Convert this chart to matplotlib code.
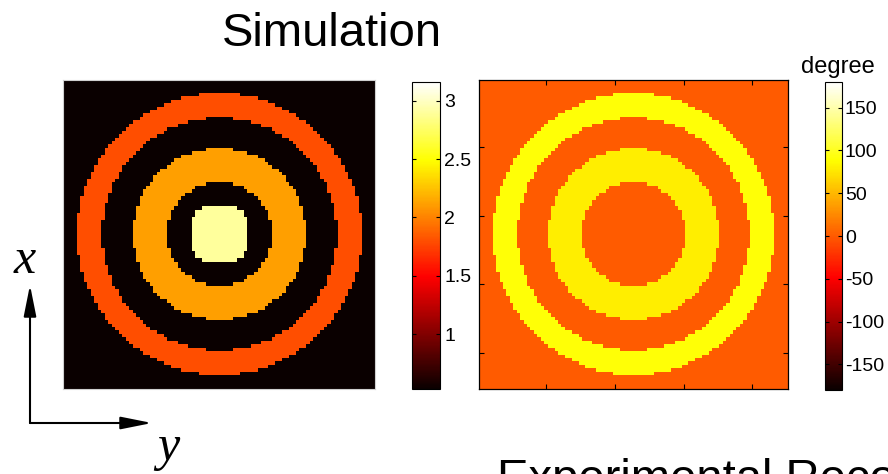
import numpy as np
import matplotlib
matplotlib.use("Agg")
import matplotlib.pyplot as plt
from matplotlib.patches import FancyArrowPatch, ArrowStyle

# ---- data -------------------------------------------------------------
grid_size = 90                      # samples per side
core_radius = 7.8                   # bright central spot (squarish, p-norm)
ring_edges = [15.1, 24.9, 33.8, 40.9]  # zone boundaries in samples

# one value per zone: core, then each annulus, then the outside
amplitude_levels = [2.90, 0.53, 2.12, 0.53, 1.80, 0.53]
phase_levels = [0.0, 0.0, 80.0, 0.0, 90.0, 0.0]   # degree

amp_limits = (0.53, 3.16)
phase_limits = (-180, 180)
amp_ticks = [1, 1.5, 2, 2.5, 3]
amp_ticklabels = ["1", "1.5", "2", "2.5", "3"]
phase_ticks = [-150, -100, -50, 0, 50, 100, 150]
image_ticks = [20, 40, 60, 80]


def zone_map(levels):
    """Fill a square grid zone by zone, from the outside inwards."""
    idx = np.arange(1, grid_size + 1)
    xx, yy = np.meshgrid(idx, idx)
    c = (grid_size + 1) / 2.0
    dx, dy = xx - c, yy - c
    r = np.hypot(dx, dy)
    rp = (np.abs(dx) ** 4 + np.abs(dy) ** 4) ** 0.25
    field = np.full(r.shape, levels[-1], dtype=float)
    for k in range(len(ring_edges) - 1, -1, -1):
        field[r < ring_edges[k]] = levels[k + 1]
    field[rp < core_radius] = levels[0]
    return field


amp = zone_map(amplitude_levels)
phase = zone_map(phase_levels)

W, H = 888, 474
plt.rcParams["font.family"] = ["Liberation Sans", "DejaVu Sans"]
plt.rcParams["axes.unicode_minus"] = False
fig = plt.figure(figsize=(W / 100, H / 100), dpi=100)
fig.patch.set_facecolor("white")


def rect(x0, y0, x1, y1):
    """pixel box (top-left origin) -> figure fraction rect"""
    return [x0 / W, (H - y1) / H, (x1 - x0) / W, (y1 - y0) / H]


ext = (0.5, grid_size + 0.5, grid_size + 0.5, 0.5)

# amplitude panel
ax1 = fig.add_axes(rect(63, 80, 375, 389))
im1 = ax1.imshow(amp, cmap="hot", vmin=amp_limits[0], vmax=amp_limits[1],
                 interpolation="nearest", aspect="auto", extent=ext)
ax1.set_xticks([])
ax1.set_yticks([])
for s in ax1.spines.values():
    s.set_color("#d0d0d0")
    s.set_linewidth(0.8)

cax1 = fig.add_axes(rect(412, 82, 440, 389))
cb1 = fig.colorbar(im1, cax=cax1)
cb1.set_ticks(amp_ticks)
cb1.set_ticklabels(amp_ticklabels)
cb1.outline.set_linewidth(0.8)
cax1.tick_params(axis="y", direction="in", left=True, right=True,
                 length=3, width=0.8, labelsize=14, pad=3)

# phase panel
ax2 = fig.add_axes(rect(479.3, 80, 788.3, 389))
im2 = ax2.imshow(phase, cmap="hot", vmin=phase_limits[0], vmax=phase_limits[1],
                 interpolation="nearest", aspect="auto", extent=ext)
ax2.set_xticks(image_ticks)
ax2.set_yticks(image_ticks)
ax2.set_xticklabels([])
ax2.set_yticklabels([])
ax2.tick_params(direction="in", top=True, right=True, length=3.5, width=0.8)
for s in ax2.spines.values():
    s.set_linewidth(0.9)

cax2 = fig.add_axes(rect(825, 82, 842, 390))
cb2 = fig.colorbar(im2, cax=cax2)
cb2.set_ticks(phase_ticks)
cb2.outline.set_linewidth(0.8)
cax2.tick_params(axis="y", direction="in", left=True, right=True,
                 length=3, width=0.8, labelsize=14, pad=2)
fig.text(838 / W, (H - 73) / H, "degree", ha="center", va="baseline", fontsize=17)

# headings
fig.text(332 / W, (H - 46) / H, "Simulation", ha="center", va="baseline", fontsize=34)
fig.text(497 / W, (H - 491.5) / H, "Experimental Reconstruction",
         ha="left", va="baseline", fontsize=34)

# coordinate arrows
style = ArrowStyle("-|>", head_length=19, head_width=3.8)
origin = (30, H - 423)
for tip in [(30, H - 285), (152, H - 423)]:
    arr = FancyArrowPatch(origin, tip, transform=None, arrowstyle=style,
                          mutation_scale=1, color="black", lw=1.5,
                          shrinkA=0, shrinkB=0)
    fig.add_artist(arr)

fig.text(25 / W, (H - 273) / H, "x", ha="center", va="baseline", fontsize=36,
         family=["Liberation Serif", "DejaVu Serif"], style="italic")
fig.text(168 / W, (H - 460) / H, "y", ha="center", va="baseline", fontsize=36,
         family=["Liberation Serif", "DejaVu Serif"], style="italic")

fig.savefig("out.png", dpi=100)
